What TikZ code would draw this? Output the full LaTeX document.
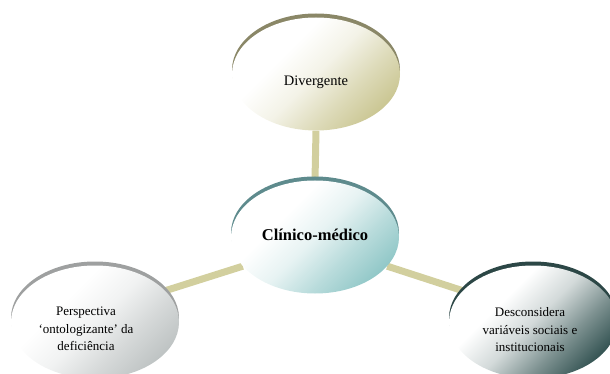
\documentclass[tikz,border=0pt]{standalone}
\usepackage{fontspec}
\setmainfont{Liberation Serif}
\usetikzlibrary{shapes.geometric,shadows}

\definecolor{linkc}{HTML}{D2CF9E}
\definecolor{divfill}{HTML}{CBC794}
\definecolor{divrim}{HTML}{8A8767}
\definecolor{clifill}{HTML}{92C8C8}
\definecolor{clirim}{HTML}{5E8B8D}
\definecolor{perfill}{HTML}{BFC4C4}
\definecolor{perrim}{HTML}{9EA0A0}
\definecolor{desfill}{HTML}{375655}
\definecolor{desrim}{HTML}{2C4746}

% white towards the upper left, tint towards the lower right
\newcommand\bubbleshading[2]{%
  \pgfdeclareverticalshading{#1}{100bp}{%
    color(0bp)=(#2); color(25bp)=(#2); color(37bp)=(#2!65!white);
    color(50bp)=(#2!22!white); color(63bp)=(white); color(100bp)=(white)}}
\bubbleshading{divsh}{divfill}
\bubbleshading{clish}{clifill}
\bubbleshading{persh}{perfill}
\bubbleshading{dessh}{desfill}

\pgfdeclarelayer{background}
\pgfsetlayers{background,main}

\tikzset{
  bubble/.style 2 args={ellipse, minimum width=168pt, minimum height=113pt,
    inner sep=0pt, shading=#1, shading angle=45,
    general shadow={fill=#2, shadow yshift=4pt}},
  caption/.style={align=center, text=black, inner sep=0pt},
  link/.style={draw=linkc, line width=7pt}
}

\begin{document}
\begin{tikzpicture}[x=1pt,y=-1pt]
  \useasboundingbox (0,0) rectangle (610,374);

  \node[bubble={divsh}{divrim},
    label={[caption, name=div-text, yshift=-8pt,
      font=\fontsize{14.5}{18}\selectfont]center:Divergente}]
    (div) at (316,74) {};
  \node[bubble={clish}{clirim},
    label={[caption, name=cli-text, yshift=2pt,
      font=\fontsize{16.5}{19}\selectfont\bfseries]center:Clínico-médico}]
    (cli) at (315,237) {};
  \node[bubble={persh}{perrim},
    label={[caption, name=per-text, xshift=-9pt, yshift=-7pt,
      font=\fontsize{13}{17.5}\selectfont]center:Perspectiva\\‘ontologizante’ da\\deficiência}]
    (per) at (95,322) {};
  \node[bubble={dessh}{desrim},
    label={[caption, name=des-text, xshift=-3pt, yshift=-8pt,
      font=\fontsize{13}{17.5}\selectfont]center:Desconsidera\\variáveis sociais e\\institucionais}]
    (des) at (533,322) {};

  \begin{pgfonlayer}{background}
    \draw[link] (div.south) -- (cli.north);
    \draw[link] (cli.202) -- (per.24);
    \draw[link] (cli.-22) -- (des.156);
  \end{pgfonlayer}
\end{tikzpicture}
\end{document}
